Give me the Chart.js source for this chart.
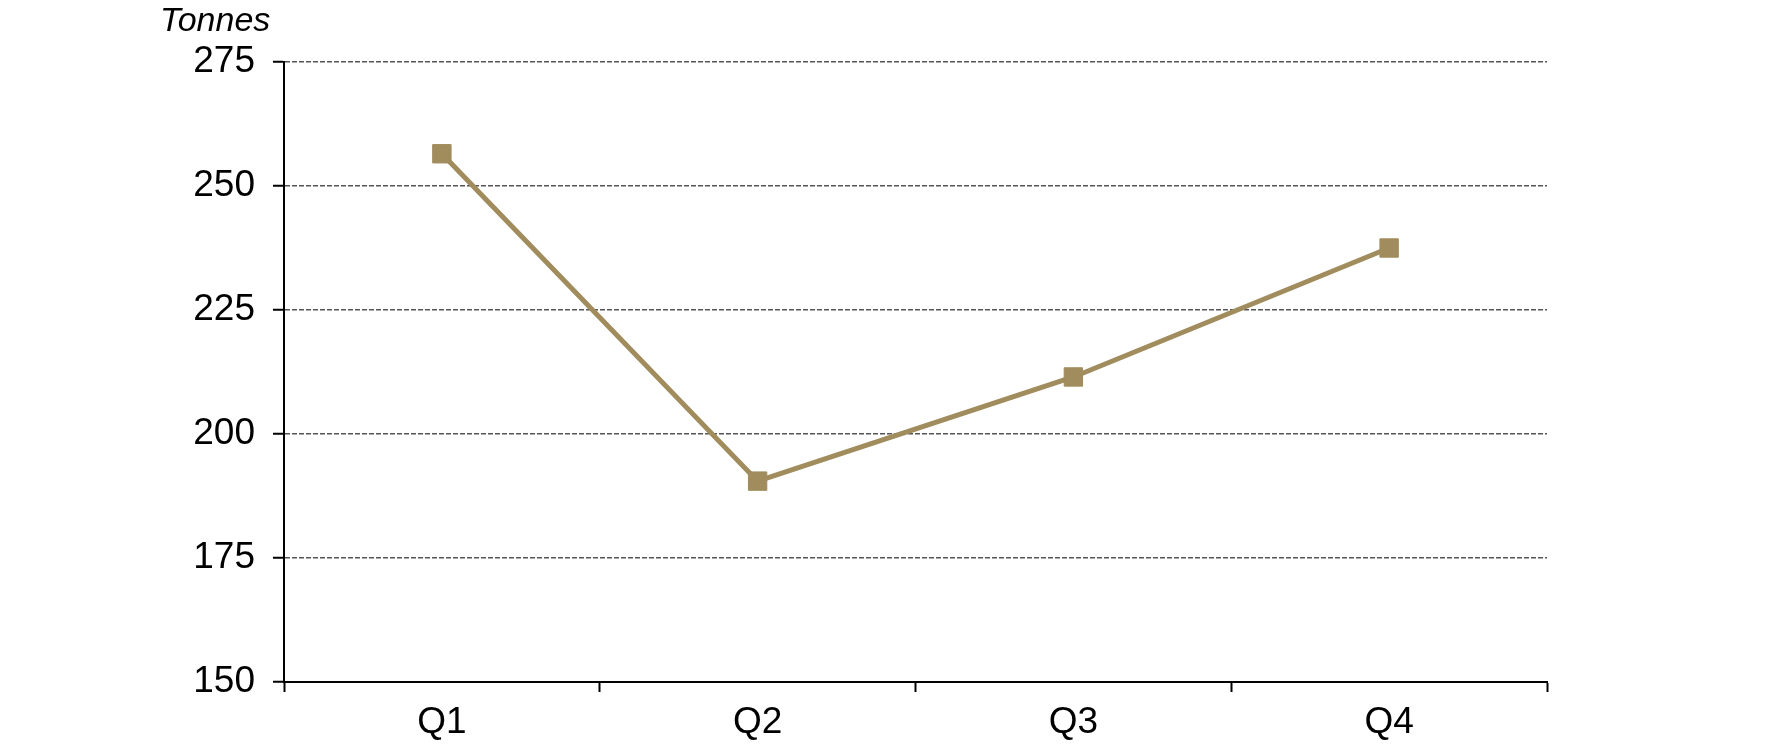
<!DOCTYPE html>
<html lang="en">
<head>
    <meta charset="UTF-8">
    <title>Tonnes per quarter</title>
    <script src="https://cdn.jsdelivr.net/npm/chart.js"></script>
    <style>
        html, body {
            margin: 0;
            padding: 0;
            background: #fff;
        }
        #wrap {
            width: 1771px;
            height: 744px;
        }
    </style>
</head>
<body>
    <div id="wrap">
        <canvas id="chart" width="1771" height="744"></canvas>
    </div>

    <script>
        const categories = ['Q1', 'Q2', 'Q3', 'Q4'];
        const tonnes = [256.5, 190.5, 211.5, 237.5];
        const yMin = 150;
        const yMax = 275;
        const yStep = 25;
        const unitLabel = 'Tonnes';

        const lineColour = 'rgb(160, 140, 92)';
        const fontFamily = '"Liberation Sans", Arial, sans-serif';

        // unit label drawn above the y axis
        const unitPlugin = {
            id: 'unitLabel',
            afterDraw(chart) {
                const ctx = chart.ctx;
                ctx.save();
                ctx.font = 'italic 34px ' + fontFamily;
                ctx.fillStyle = '#000';
                ctx.textBaseline = 'alphabetic';
                ctx.textAlign = 'left';
                ctx.fillText(unitLabel, 160, 31);
                ctx.restore();
            }
        };

        new Chart(document.getElementById('chart'), {
            type: 'line',
            data: {
                labels: categories,
                datasets: [{
                    data: tonnes,
                    borderColor: lineColour,
                    backgroundColor: lineColour,
                    borderWidth: 5,
                    pointStyle: 'rect',
                    pointRadius: 13,
                    pointBorderWidth: 1,
                    pointBorderColor: lineColour,
                    pointBackgroundColor: lineColour,
                    tension: 0
                }]
            },
            options: {
                responsive: false,
                animation: false,
                devicePixelRatio: 1,
                layout: {
                    padding: { top: 62, right: 224, bottom: 0, left: 0 }
                },
                plugins: {
                    legend: { display: false },
                    tooltip: { enabled: false }
                },
                scales: {
                    x: {
                        offset: true,
                        grid: {
                            offset: true,
                            drawOnChartArea: false,
                            drawTicks: true,
                            tickLength: 10,
                            tickColor: '#000',
                            tickWidth: 2
                        },
                        border: { color: '#000', width: 2 },
                        ticks: {
                            color: '#000',
                            padding: 9,
                            font: { family: fontFamily, size: 37 }
                        },
                        afterFit(scale) { scale.height = 62; }
                    },
                    y: {
                        min: yMin,
                        max: yMax,
                        ticks: {
                            stepSize: yStep,
                            color: '#000',
                            padding: 18,
                            font: { family: fontFamily, size: 37 }
                        },
                        grid: {
                            color: '#555',
                            lineWidth: 1.5,
                            tickLength: 11,
                            tickColor: '#000',
                            tickWidth: 2,
                            tickBorderDash: []
                        },
                        border: { color: '#000', width: 2, dash: [5, 2] },
                        afterFit(scale) { scale.width = 284; }
                    }
                }
            },
            plugins: [unitPlugin]
        });
    </script>
</body>
</html>
